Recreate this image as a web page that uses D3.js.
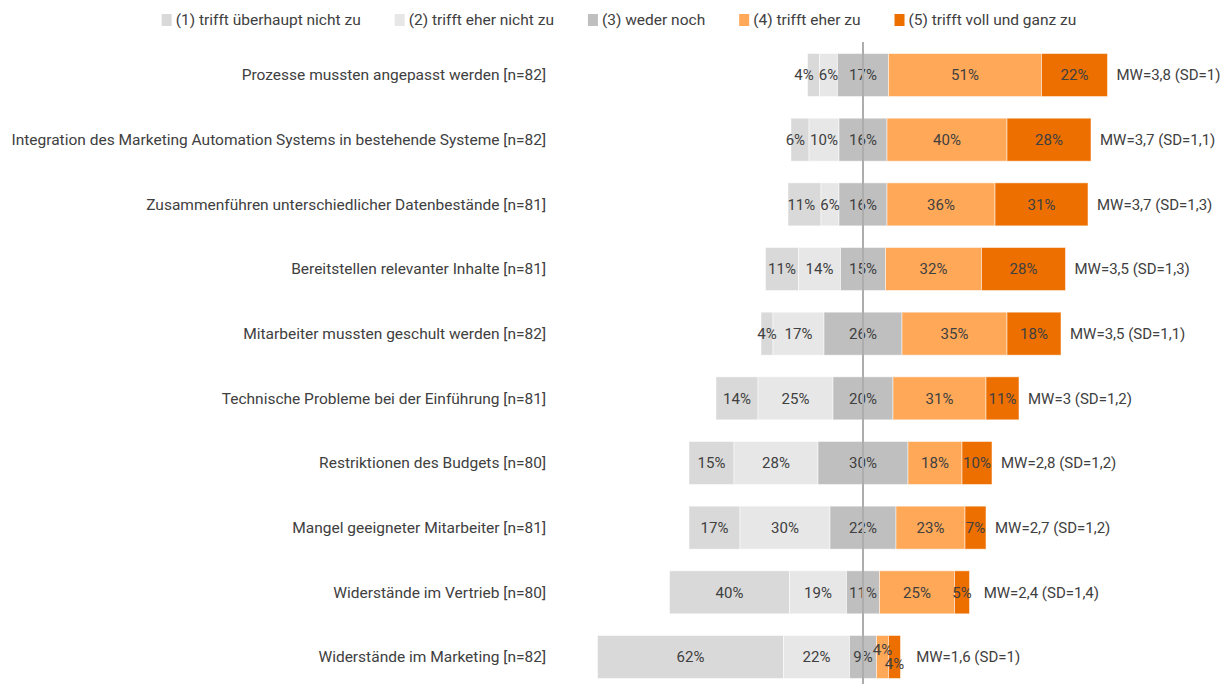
<!DOCTYPE html>
<html>
<head>
<meta charset="utf-8">
<script src="https://cdn.jsdelivr.net/npm/d3@7"></script>
<style>
  body { margin: 0; background: #fff; }
  svg text { font-family: Roboto, "Liberation Sans", sans-serif; fill: #404040; }
</style>
</head>
<body>
<div id="chart"></div>
<script>
const categories = [
    "Prozesse mussten angepasst werden [n=82]",
    "Integration des Marketing Automation Systems in bestehende Systeme [n=82]",
    "Zusammenführen unterschiedlicher Datenbestände [n=81]",
    "Bereitstellen relevanter Inhalte [n=81]",
    "Mitarbeiter mussten geschult werden [n=82]",
    "Technische Probleme bei der Einführung [n=81]",
    "Restriktionen des Budgets [n=80]",
    "Mangel geeigneter Mitarbeiter [n=81]",
    "Widerstände im Vertrieb [n=80]",
    "Widerstände im Marketing [n=82]"
];
const legendLabels = ["(1) trifft überhaupt nicht zu", "(2) trifft eher nicht zu", "(3) weder noch", "(4) trifft eher zu", "(5) trifft voll und ganz zu"];
const s1 = [4, 6, 11, 11, 4, 14, 15, 17, 40, 62];
const s2 = [6, 10, 6, 14, 17, 25, 28, 30, 19, 22];
const s3 = [17, 16, 16, 15, 26, 20, 30, 22, 11, 9];
const s4 = [51, 40, 36, 32, 35, 31, 18, 23, 25, 4];
const s5 = [22, 28, 31, 28, 18, 11, 10, 7, 5, 4];
const mw = [3.8, 3.7, 3.7, 3.5, 3.5, 3, 2.8, 2.7, 2.4, 1.6];
const sd = [1, 1.1, 1.3, 1.3, 1.1, 1.2, 1.2, 1.2, 1.4, 1];

const colors = ["#d9d9d9", "#e7e7e7", "#bfbfbf", "#ffa857", "#ec6f00"];

const width = 1227, height = 684;
const centerX = 863;

const svg = d3.select("#chart").append("svg")
    .attr("width", width)
    .attr("height", height);

const x = d3.scaleLinear().domain([-100, 100]).range([centerX - 300, centerX + 300]);
const y = d3.scaleBand().domain(categories).range([42.7, 689.3])
    .paddingInner(0.335).paddingOuter(0.1675);

const fmt = v => String(v).replace(".", ",");

// rows
const rows = categories.map((c, i) => {
    const vals = [s1[i], s2[i], s3[i], s4[i], s5[i]];
    let start = -(vals[0] + vals[1] + vals[2] / 2);
    const segs = vals.map((v, k) => {
        const seg = {k: k, v: v, x0: start, x1: start + v};
        start += v;
        return seg;
    });
    return {cat: c, i: i, segs: segs};
});

const g = svg.selectAll(".row")
    .data(rows)
    .enter().append("g")
    .attr("class", "row");

g.selectAll("rect")
    .data(d => d.segs.map(s => Object.assign({cat: d.cat}, s)))
    .enter().append("rect")
    .attr("x", d => x(d.x0))
    .attr("y", d => y(d.cat))
    .attr("width", d => x(d.x1) - x(d.x0))
    .attr("height", y.bandwidth())
    .attr("fill", d => colors[d.k])
    .attr("stroke", "#fff")
    .attr("stroke-opacity", 0.5)
    .attr("stroke-width", 1);

// category labels
svg.selectAll(".cat")
    .data(categories)
    .enter().append("text")
    .attr("class", "cat")
    .attr("x", 546)
    .attr("y", d => y(d) + y.bandwidth() / 2)
    .attr("dy", "0.35em")
    .attr("text-anchor", "end")
    .style("font-size", "15.5px")
    .text(d => d);

// value labels with simple collision handling
rows.forEach(r => {
    const cy = y(r.cat) + y.bandwidth() / 2;
    const labels = r.segs.map(s => {
        const t = svg.append("text")
            .attr("x", x((s.x0 + s.x1) / 2))
            .attr("y", cy)
            .attr("dy", "0.35em")
            .attr("text-anchor", "middle")
            .style("font-size", "15px")
            .text(s.v + "%");
        const w = t.node().getComputedTextLength();
        return {t: t, cx: x((s.x0 + s.x1) / 2), w: w};
    });
    // left side: push outward to the left
    for (let k = 1; k >= 0; k--) {
        const next = labels[k + 1];
        const l = labels[k];
        const nextLeft = next.cx - next.w / 2;
        if (l.cx + l.w / 2 > nextLeft - 5) {
            l.cx = nextLeft - 5 - l.w / 2;
            l.t.attr("x", l.cx);
        }
    }
    // right side: stagger vertically
    const a = labels[3], b = labels[4];
    if (a.cx + a.w / 2 > b.cx - b.w / 2) {
        a.t.attr("y", cy - 7);
        b.t.attr("y", cy + 7);
    }
    const barEnd = x(r.segs[4].x1);
    const lastRight = Math.max(barEnd, b.cx + b.w / 2);
    svg.append("text")
        .attr("x", lastRight + (lastRight > barEnd ? 12 : 9))
        .attr("y", cy)
        .attr("dy", "0.35em")
        .style("font-size", "15px")
        .text("MW=" + fmt(mw[r.i]) + " (SD=" + fmt(sd[r.i]) + ")");
});

// center line
svg.append("line")
    .attr("x1", centerX).attr("x2", centerX)
    .attr("y1", 42).attr("y2", height)
    .attr("stroke", "#adadad")
    .attr("stroke-width", 2);

// legend
const legend = svg.append("g");
const gap = 34;
let lx = 0;
legendLabels.forEach((d, k) => {
    const item = legend.append("g").attr("transform", "translate(" + lx + ",0)");
    item.append("rect")
        .attr("x", 0).attr("y", 14)
        .attr("width", 10).attr("height", 12)
        .attr("fill", colors[k]);
    const t = item.append("text")
        .attr("x", 14).attr("y", 20)
        .attr("dy", "0.35em")
        .style("font-size", "15.5px")
        .text(d);
    lx += 14 + t.node().getComputedTextLength() + gap;
});
const legendW = lx - gap;
legend.attr("transform", "translate(" + (619 - legendW / 2) + ",0)");
</script>
</body>
</html>
